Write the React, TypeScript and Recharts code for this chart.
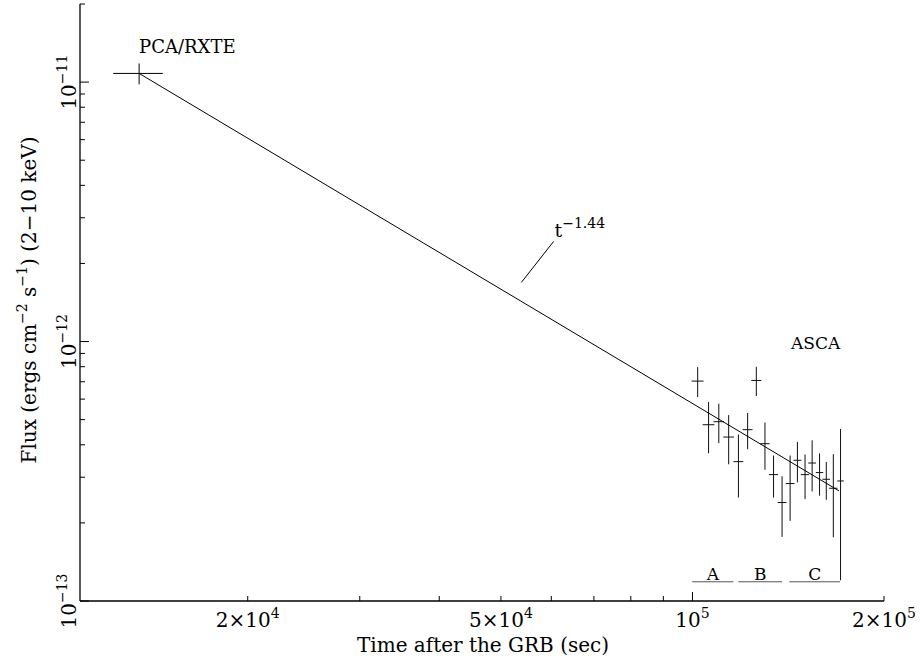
import React from "react";
import { ScatterChart, Scatter, XAxis, YAxis, ErrorBar, ReferenceDot } from "recharts";

const FONT = "'DejaVu Serif', serif";

// PCA/RXTE point
const pcaTime = [1.35e4];
const pcaTimeErr = [1.21e3];
const pcaFlux = [1.08e-11];
const pcaFluxErr = [1.0e-12];

// ASCA points
const ascaTime = [
  1.019e5, 1.06e5, 1.1e5, 1.14e5, 1.181e5, 1.221e5, 1.26e5, 1.3e5, 1.341e5,
  1.383e5, 1.424e5, 1.462e5, 1.503e5, 1.542e5, 1.584e5, 1.623e5, 1.665e5, 1.709e5,
];
const ascaTimeErr = [
  2.2e3, 2.25e3, 2.1e3, 2.2e3, 2.1e3, 2.2e3, 2.3e3, 2.2e3, 2.2e3,
  2.2e3, 2.25e3, 2.1e3, 2.25e3, 2.15e3, 2.1e3, 2.25e3, 2.5e3, 2.0e3,
];
const ascaFlux = [
  7.04e-13, 4.78e-13, 4.91e-13, 4.285e-13, 3.445e-13, 4.575e-13, 7.08e-13, 4.04e-13, 3.07e-13,
  2.396e-13, 2.836e-13, 3.486e-13, 3.07e-13, 3.403e-13, 3.126e-13, 2.945e-13, 2.72e-13, 2.902e-13,
];
const ascaFluxErr = [
  0.93e-13, 1.07e-13, 0.85e-13, 0.92e-13, 0.94e-13, 0.73e-13, 0.915e-13, 0.835e-13, 0.565e-13,
  0.63e-13, 0.8e-13, 0.62e-13, 0.6e-13, 0.76e-13, 0.58e-13, 0.49e-13, 0.96e-13, 1.7e-13,
];

// power-law fit t^-1.44
const fitTime = [1.35e4, 1.7e5];
const fitFlux = [1.08e-11, 2.656e-13];

// leader line for the fit label
const leaderTime = [5.384e4, 6.05e4];
const leaderFlux = [1.69e-12, 2.431e-12];

// A / B / C intervals
const bandNames = ["A", "B", "C"];
const bandStart = [0.9989e5, 1.1808e5, 1.4201e5];
const bandEnd = [1.1596e5, 1.3828e5, 1.7058e5];
const bandLevel = 1.186e-13;

// axes
const xTicks = [2e4, 3e4, 4e4, 5e4, 6e4, 7e4, 8e4, 9e4, 1e5, 2e5];
const xLabelValues = [2e4, 5e4, 1e5, 2e5];
const xLabelMantissa = ["2×10", "5×10", "10", "2×10"];
const xLabelExp = ["4", "4", "5", "5"];

const yTicks = [
  1e-13, 2e-13, 3e-13, 4e-13, 5e-13, 6e-13, 7e-13, 8e-13, 9e-13,
  1e-12, 2e-12, 3e-12, 4e-12, 5e-12, 6e-12, 7e-12, 8e-12, 9e-12,
  1e-11, 2e-11,
];
const yLabelValues = [1e-13, 1e-12, 1e-11];
const yLabelExp = ["−13", "−12", "−11"];

const pcaData = pcaTime.map((t, i) => ({
  time: t,
  flux: pcaFlux[i],
  timeErr: pcaTimeErr[i],
  fluxErr: pcaFluxErr[i],
}));
const ascaData = ascaTime.map((t, i) => ({
  time: t,
  flux: ascaFlux[i],
  timeErr: ascaTimeErr[i],
  fluxErr: ascaFluxErr[i],
}));
const fitData = fitTime.map((t, i) => ({ time: t, flux: fitFlux[i] }));
const leaderData = leaderTime.map((t, i) => ({ time: t, flux: leaderFlux[i] }));
const bandData = bandNames.map((_, i) => [
  { time: bandStart[i], flux: bandLevel },
  { time: bandEnd[i], flux: bandLevel },
]);

const isDecade = (v: number) => Math.abs(Math.log10(v) - Math.round(Math.log10(v))) < 1e-6;
const MAJOR = 9;
const MINOR = 5;

const NoMark = () => <g />;

function BottomTick({ x, y, payload }: any) {
  const v = payload.value;
  const len = isDecade(v) ? MAJOR : MINOR;
  const i = xLabelValues.indexOf(v);
  return (
    <g>
      <line x1={x} y1={y} x2={x} y2={y - len} stroke="#000" strokeWidth={1} />
      {i >= 0 && (
        <text x={x} y={y + 26} textAnchor="middle" fontFamily={FONT} fontSize={20} fill="#000">
          <tspan>{xLabelMantissa[i]}</tspan>
          <tspan dy={-9} fontSize={14}>
            {xLabelExp[i]}
          </tspan>
        </text>
      )}
    </g>
  );
}

function TopTick({ x, y, payload }: any) {
  const len = isDecade(payload.value) ? MAJOR : MINOR;
  return <line x1={x} y1={y} x2={x} y2={y + len} stroke="#000" strokeWidth={1} />;
}

function LeftTick({ x, y, payload }: any) {
  const v = payload.value;
  const len = isDecade(v) ? MAJOR : MINOR;
  const i = yLabelValues.indexOf(v);
  const bx = x - 4;
  return (
    <g>
      <line x1={x} y1={y} x2={x + len} y2={y} stroke="#000" strokeWidth={1} />
      {i >= 0 && (
        <text
          x={bx}
          y={y}
          transform={`rotate(-90, ${bx}, ${y})`}
          textAnchor="middle"
          fontFamily={FONT}
          fontSize={20}
          fill="#000"
        >
          <tspan>10</tspan>
          <tspan dy={-9} fontSize={14}>
            {yLabelExp[i]}
          </tspan>
        </text>
      )}
    </g>
  );
}

function RightTick({ x, y, payload }: any) {
  const len = isDecade(payload.value) ? MAJOR : MINOR;
  return <line x1={x} y1={y} x2={x - len} y2={y} stroke="#000" strokeWidth={1} />;
}

function XTitle() {
  return (
    <text x={483} y={652} textAnchor="middle" fontFamily={FONT} fontSize={20} fill="#000">
      Time after the GRB (sec)
    </text>
  );
}

function YTitle() {
  return (
    <text
      x={36}
      y={300}
      transform="rotate(-90, 36, 300)"
      textAnchor="middle"
      fontFamily={FONT}
      fontSize={20}
      fill="#000"
    >
      <tspan>Flux (ergs cm</tspan>
      <tspan dy={-9} fontSize={14}>−2</tspan>
      <tspan dy={9}> s</tspan>
      <tspan dy={-9} fontSize={14}>−1</tspan>
      <tspan dy={9}>) (2−10 keV)</tspan>
    </text>
  );
}

const textAt =
  (content: React.ReactNode, size: number, anchor: "start" | "middle" = "start") =>
  (p: any) =>
    (
      <text x={p.cx} y={p.cy} textAnchor={anchor} fontFamily={FONT} fontSize={size} fill="#000">
        {content}
      </text>
    );

export default function App() {
  return (
    <div style={{ position: "absolute", left: 0, top: 0, background: "#fff" }}>
      <ScatterChart width={921} height={665} margin={{ top: 4, right: 37, bottom: 0, left: 0 }}>
        <XAxis
          dataKey="time"
          type="number"
          scale="log"
          domain={[1.09e4, 2e5]}
          allowDataOverflow
          ticks={xTicks}
          interval={0}
          height={64}
          tickSize={0}
          tickMargin={0}
          tickLine={false}
          tick={<BottomTick />}
          axisLine={{ stroke: "#000", strokeWidth: 1.3 }}
          label={<XTitle />}
        />
        <XAxis
          xAxisId="top"
          dataKey="time"
          type="number"
          scale="log"
          orientation="top"
          domain={[1.09e4, 2e5]}
          allowDataOverflow
          ticks={xTicks}
          interval={0}
          height={0}
          tickSize={0}
          tickMargin={0}
          tickLine={false}
          tick={<TopTick />}
          axisLine={{ stroke: "#000", strokeWidth: 1.3 }}
        />
        <YAxis
          dataKey="flux"
          type="number"
          scale="log"
          domain={[1e-13, 2e-11]}
          allowDataOverflow
          ticks={yTicks}
          interval={0}
          width={80}
          tickSize={0}
          tickMargin={0}
          tickLine={false}
          tick={<LeftTick />}
          axisLine={{ stroke: "#000", strokeWidth: 1.3 }}
          label={<YTitle />}
        />
        <YAxis
          yAxisId="right"
          dataKey="flux"
          type="number"
          scale="log"
          orientation="right"
          domain={[1e-13, 2e-11]}
          allowDataOverflow
          ticks={yTicks}
          interval={0}
          width={0}
          tickSize={0}
          tickMargin={0}
          tickLine={false}
          tick={<RightTick />}
          axisLine={{ stroke: "#000", strokeWidth: 1.3 }}
        />

        <Scatter
          data={fitData}
          line={{ stroke: "#000", strokeWidth: 1 }}
          shape={NoMark}
          isAnimationActive={false}
        />
        <Scatter
          data={leaderData}
          line={{ stroke: "#000", strokeWidth: 1 }}
          shape={NoMark}
          isAnimationActive={false}
        />
        {bandData.map((seg, i) => (
          <Scatter
            key={bandNames[i]}
            data={seg}
            line={{ stroke: "#555", strokeWidth: 1 }}
            shape={NoMark}
            isAnimationActive={false}
          />
        ))}
        <Scatter data={pcaData} shape={NoMark} isAnimationActive={false}>
          <ErrorBar dataKey="timeErr" direction="x" width={0} stroke="#000" strokeWidth={1} />
          <ErrorBar dataKey="fluxErr" direction="y" width={0} stroke="#000" strokeWidth={1} />
        </Scatter>
        <Scatter data={ascaData} shape={NoMark} isAnimationActive={false}>
          <ErrorBar dataKey="timeErr" direction="x" width={0} stroke="#111" strokeWidth={1} />
          <ErrorBar dataKey="fluxErr" direction="y" width={0} stroke="#111" strokeWidth={1} />
        </Scatter>

        <ReferenceDot x={1.35e4} y={1.292e-11} r={0} shape={textAt("PCA/RXTE", 18)} />
        <ReferenceDot x={1.429e5} y={9.37e-13} r={0} shape={textAt("ASCA", 17)} />
        <ReferenceDot
          x={6.072e4}
          y={2.518e-12}
          r={0}
          shape={textAt(
            <>
              <tspan>t</tspan>
              <tspan dy={-9} fontSize={14}>
                −1.44
              </tspan>
            </>,
            19
          )}
        />
        {bandNames.map((name, i) => (
          <ReferenceDot
            key={name}
            x={(bandStart[i] * bandEnd[i]) ** 0.5}
            y={1.205e-13}
            r={0}
            shape={textAt(name, 17, "middle")}
          />
        ))}
      </ScatterChart>
    </div>
  );
}
